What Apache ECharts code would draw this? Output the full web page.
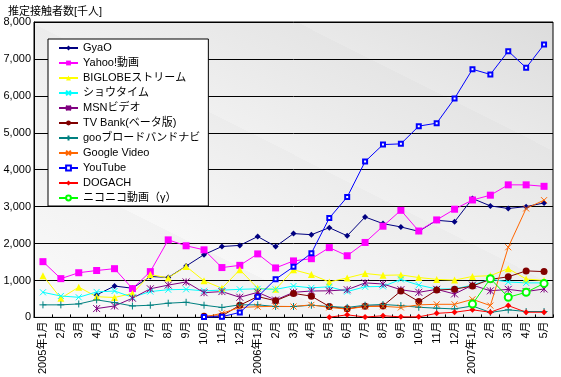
<!DOCTYPE html>
<html>
<head>
<meta charset="utf-8">
<script src="https://cdn.jsdelivr.net/npm/echarts@6/dist/echarts.min.js"></script>
<style>
  html, body { margin: 0; padding: 0; background: #fff; }
  #chart { width: 561px; height: 377px; }
</style>
</head>
<body>
<div id="chart"></div>
<script>
const months = ['2005年1月', '2月', '3月', '4月', '5月', '6月', '7月', '8月', '9月', '10月', '11月', '12月',
    '2006年1月', '2月', '3月', '4月', '5月', '6月', '7月', '8月', '9月', '10月', '11月', '12月',
    '2007年1月', '2月', '3月', '4月', '5月'];
const yTicks = ['0', '1,000', '2,000', '3,000', '4,000', '5,000', '6,000', '7,000', '8,000'];

const gyao = [null, null, null, 610, 850, 790, 1110, 1080, 1390, 1700, 1920, 1950, 2190, 1920, 2270, 2240, 2430, 2210, 2720, 2540, 2450, 2330, 2630, 2590, 3220, 3020, 2950, 3000, 3100];
const yahoo = [1510, 1050, 1210, 1270, 1320, 780, 1240, 2100, 1940, 1830, 1350, 1410, 1720, 1340, 1530, 1590, 1890, 1670, 2030, 2470, 2900, 2340, 2640, 2930, 3180, 3310, 3590, 3590, 3550];
const biglobe = [1130, 520, 820, 560, 540, 650, 1160, 1070, 1380, 990, 790, 1290, 790, 760, 1290, 1160, 960, 1070, 1190, 1140, 1150, 1080, 1030, 1010, 1110, 1130, 1320, 1040, 1000];
const showtime = [680, 580, 545, 690, 715, 545, 700, 750, 760, 720, 740, 760, 775, 760, 850, 800, 830, 700, 830, 840, 1030, 875, 770, 770, 875, 1035, 960, 935, 935];
const msn = [null, null, null, 240, 310, 520, 775, 875, 960, 670, 700, 545, 680, 470, 680, 715, 720, 750, 935, 905, 750, 680, 760, 635, 875, 720, 760, 700, 770];
const tvbank = [null, null, null, null, null, null, null, null, null, 30, 40, 330, 565, 450, 650, 575, 295, 235, 305, 310, 715, 430, 740, 765, 850, 1030, 1100, 1260, 1240];
const goo = [340, 340, 365, 475, 400, 310, 330, 385, 410, 330, 270, 340, 340, 295, 295, 330, 295, 270, 330, 350, 320, 275, 250, 230, 310, 135, 205, 160, 160];
const google = [null, null, null, null, null, null, null, null, null, 10, 110, 270, 290, 300, 295, 340, 270, 225, 295, 300, 270, 340, 355, 355, 490, 320, 1900, 2950, 3175];
const youtube = [null, null, null, null, null, null, null, null, null, 10, 20, 135, 560, 1035, 1370, 1740, 2690, 3260, 4220, 4680, 4700, 5180, 5260, 5930, 6720, 6580, 7210, 6760, 7390];
const dogach = [null, null, null, null, null, null, null, null, null, null, null, null, null, null, null, null, 5, 70, 10, 45, 15, 15, 110, 140, 205, 140, 320, 140, 140];
const nico = [null, null, null, null, null, null, null, null, null, null, null, null, null, null, null, null, null, null, null, null, null, null, null, null, 360, 1050, 545, 680, 920];

const X_MARK = 'path://M0,0L10,10M10,0L0,10';
const STAR_MARK = 'path://M0,0L10,10M10,0L0,10M5,0L5,10';
const PLUS_MARK = 'path://M5,0L5,10M0,5L10,5';

const font = "'Liberation Sans', 'Noto Sans CJK JP', sans-serif";

function mkSeries(name, data, color, symbol, size, stroke) {
    return {
        name: name,
        type: 'line',
        data: data,
        symbol: symbol,
        symbolSize: size,
        showSymbol: true,
        lineStyle: { width: 1, color: color },
        itemStyle: stroke
            ? { color: 'none', borderColor: color, borderWidth: 1 }
            : { color: color, borderColor: color, borderWidth: 0 },
        emphasis: { disabled: true }
    };
}

const chart = echarts.init(document.getElementById('chart'));
chart.setOption({
    animation: false,
    textStyle: { fontFamily: font },
    title: {
        text: '推定接触者数[千人]',
        left: 3,
        top: 1,
        textStyle: { fontSize: 11, fontWeight: 'normal', color: '#000', fontFamily: font }
    },
    legend: {
        orient: 'vertical',
        left: 48,
        top: 39,
        padding: [3, 8, 2, 10],
        itemWidth: 19,
        itemHeight: 6,
        itemGap: 3,
        backgroundColor: '#fff',
        borderColor: '#000',
        borderWidth: 1,
        borderRadius: 0,
        textStyle: { fontSize: 11, color: '#000', fontFamily: font, lineHeight: 12 }
    },
    grid: {
        left: 34,
        right: 8,
        top: 22,
        bottom: 56,
        show: true,
        borderColor: '#000',
        borderWidth: 1,
        backgroundColor: new echarts.graphic.LinearGradient(181, 394, 405, -52, [
            { offset: 0, color: '#fbfbfb' },
            { offset: 0.28, color: '#f2f2f2' },
            { offset: 0.28, color: '#f7f7f7' },
            { offset: 0.53, color: '#ececec' },
            { offset: 0.53, color: '#f0f0f0' },
            { offset: 0.77, color: '#e5e5e5' },
            { offset: 0.77, color: '#e9e9e9' },
            { offset: 1, color: '#dcdcdc' }
        ], true)
    },
    xAxis: {
        type: 'category',
        data: months,
        boundaryGap: true,
        axisLine: { lineStyle: { color: '#000', width: 1 } },
        axisTick: { show: true, inside: true, length: 3, interval: 0, lineStyle: { color: '#000' } },
        axisLabel: { interval: 0, rotate: 90, fontSize: 11, color: '#000', margin: 4, fontFamily: font },
        splitLine: { show: false }
    },
    yAxis: {
        type: 'value',
        min: 0,
        max: 8000,
        interval: 1000,
        axisLine: { show: true, lineStyle: { color: '#000', width: 1 } },
        axisTick: { show: false },
        axisLabel: {
            fontSize: 11,
            color: '#000',
            margin: 3,
            fontFamily: font,
            formatter: function (v) { return yTicks[Math.round(v / 1000)]; }
        },
        splitLine: { show: true, lineStyle: { color: '#000', width: 1 } }
    },
    series: [
        mkSeries('GyaO', gyao, '#000080', 'diamond', 6),
        mkSeries('Yahoo!動画', yahoo, '#ff00ff', 'rect', 7),
        mkSeries('BIGLOBEストリーム', biglobe, '#ffff00', 'triangle', 7),
        mkSeries('ショウタイム', showtime, '#00ffff', X_MARK, 6, true),
        mkSeries('MSNビデオ', msn, '#800080', STAR_MARK, 7, true),
        mkSeries('TV Bank(ベータ版)', tvbank, '#800000', 'circle', 7),
        mkSeries('gooブロードバンドナビ', goo, '#008080', PLUS_MARK, 7, true),
        mkSeries('Google Video', google, '#ff6600', X_MARK, 6, true),
        mkSeries('YouTube', youtube, '#0000ff', 'emptyRect', 4),
        mkSeries('DOGACH', dogach, '#ff0000', 'diamond', 6),
        mkSeries('ニコニコ動画（γ）', nico, '#00ff00', 'emptyCircle', 7)
    ]
});
</script>
</body>
</html>
